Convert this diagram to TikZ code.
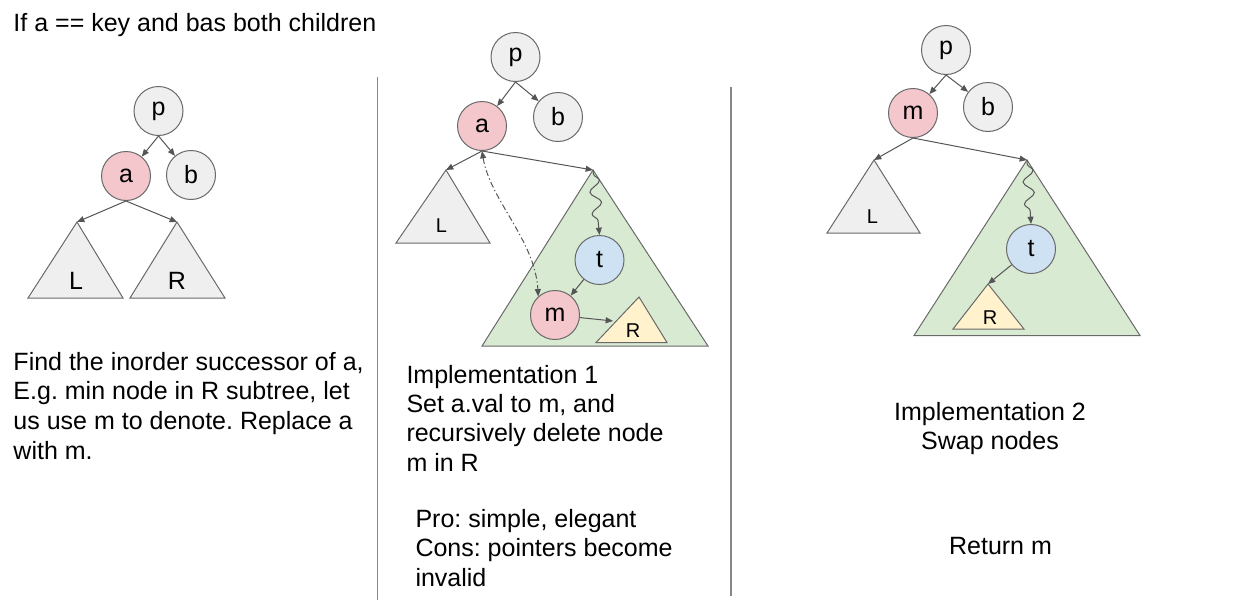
\documentclass[tikz,border=0pt]{standalone}
\usepackage{fontspec}
\setmainfont{Liberation Sans}
\usetikzlibrary{arrows.meta,decorations.pathmorphing}
\frenchspacing

\definecolor{nodegrey}{RGB}{239,239,239}
\definecolor{nodepink}{RGB}{244,199,204}
\definecolor{nodeblue}{RGB}{207,226,243}
\definecolor{treegreen}{RGB}{217,234,211}
\definecolor{treeyellow}{RGB}{255,242,204}
\definecolor{edgegrey}{RGB}{105,105,105}
\definecolor{linkgrey}{RGB}{85,85,85}
\definecolor{rulegrey}{RGB}{135,135,135}

\tikzset{every picture/.style={line width=0.75pt}}
\tikzset{
  treenode/.style={circle,draw=edgegrey,minimum size=36.75pt,inner sep=0pt,font=\fontsize{18.75}{22}\selectfont},
  greynode/.style={treenode,fill=nodegrey},
  pinknode/.style={treenode,fill=nodepink},
  bluenode/.style={treenode,fill=nodeblue},
  link/.style={draw=linkgrey,-{Triangle[length=5.5pt,width=4.5pt]}},
  wavelink/.style={link,decorate,decoration={snake,amplitude=4pt,segment length=16.5pt,pre length=3pt,post length=5pt}},
  swaplink/.style={draw=linkgrey,{Triangle[length=5.5pt,width=4.5pt]}-{Triangle[length=5.5pt,width=4.5pt]},dash pattern=on 4.5pt off 2pt on 1pt off 2pt},
  subtree/.style={draw=edgegrey,fill=nodegrey},
  bigtree/.style={draw=edgegrey,fill=treegreen},
  smalltree/.style={draw=edgegrey,fill=treeyellow},
  treelabel/.style={inner sep=0pt,font=\fontsize{18.75}{22}\selectfont},
  smalllabel/.style={inner sep=0pt,font=\fontsize{15}{18}\selectfont},
  bodytext/.style={anchor=base west,inner sep=0pt,font=\fontsize{18.75}{22}\selectfont},
  centertext/.style={anchor=base,inner sep=0pt,font=\fontsize{18.75}{22}\selectfont},
  divider/.style={draw=rulegrey,line width=1.2pt}
}

\begin{document}
\begin{tikzpicture}[x=0.75pt,y=0.75pt,yscale=-1,xscale=1]
    \useasboundingbox (0,0) rectangle (1256,600);
    % Text Node
    \node (title) at (13,31.5) [bodytext] {If a == key and bas both children};

    %% left: before
    \node (pA) at (158.5,111) [greynode] {p};
    \node (aA) at (126,176) [pinknode] {a};
    \node (bA) at (191,175) [greynode] {b};
    %Shape: Triangle
    \draw [subtree] (28,298) -- (77,222) -- (123,298) -- cycle;
    \coordinate (LtopA) at (77,222);
    %Shape: Triangle
    \draw [subtree] (130,298) -- (177,222) -- (225,298) -- cycle;
    \coordinate (RtopA) at (177,222);
    \node (LA) at (76,281) [treelabel] {L};
    \node (RA) at (177,281) [treelabel] {R};
    %Straight Lines
    \draw [link] (pA.south) -- (aA);
    \draw [link] (pA.south) -- (bA);
    \draw [link] (aA.south) -- (LtopA);
    \draw [link] (aA.south) -- (RtopA);
    % Text Node
    \node (findA) at (13,370.7) [bodytext] {Find the inorder successor of a,};
    \node (findB) at (13,399.5) [bodytext] {E.g. min node in R subtree, let};
    \node (findC) at (13,429.3) [bodytext] {us use m to denote. Replace a};
    \node (findD) at (13,459.2) [bodytext] {with m.};

    %Straight Lines [dividers]
    \draw [divider] (377.5,77) -- (377.5,600);
    \draw [divider] (730.7,87) -- (730.7,596);

    %% middle: implementation 1
    %Shape: Triangle
    \draw [subtree] (396,243) -- (446,170) -- (490,243) -- cycle;
    \coordinate (LtopB) at (446,170);
    \node (LB) at (441.5,226) [smalllabel] {L};
    %Shape: Triangle
    \draw [bigtree] (482,346) -- (593,170) -- (708,346) -- cycle;
    \coordinate (GtopB) at (593,170);
    %Shape: Triangle
    \draw [smalltree] (596,342.5) -- (639,297) -- (667,342.5) -- cycle;
    \coordinate (RsideB) at (613,321);
    \node (RB) at (633,331) [smalllabel] {R};
    \node (pB) at (515.5,57) [greynode] {p};
    \node (aB) at (482,126) [pinknode] {a};
    \node (bB) at (558,117) [greynode] {b};
    \node (tB) at (599.5,260) [bluenode] {t};
    \node (mB) at (555,315) [pinknode] {m};
    %Straight Lines
    \draw [link] (pB.south) -- (aB);
    \draw [link] (pB.south) -- (bB);
    \draw [link] (aB.south) -- (LtopB);
    \draw [link] (aB.south) -- (GtopB);
    \draw [wavelink] (GtopB) -- (tB.north);
    \draw [link] (tB) -- (mB);
    \draw [link] (mB) -- (RsideB);
    %Curve Lines
    \draw [swaplink] (aB.south) .. controls (490,200) and (535,240) .. (mB.132);
    % Text Node
    \node (implA) at (406,383.5) [bodytext] {Implementation 1};
    \node (implB) at (406,412.8) [bodytext] {Set a.val to m, and};
    \node (implC) at (406,441.8) [bodytext] {recursively delete node};
    \node (implD) at (406,471.6) [bodytext] {m in R};
    \node (proA) at (415,527.6) [bodytext] {Pro: simple, elegant};
    \node (proB) at (415,556.7) [bodytext] {Cons: pointers become};
    \node (proC) at (415,586.6) [bodytext] {invalid};

    %% right: implementation 2
    %Shape: Triangle
    \draw [subtree] (827,233) -- (874,160) -- (920,233) -- cycle;
    \coordinate (LtopC) at (874,160);
    \node (LC) at (872.5,217) [smalllabel] {L};
    %Shape: Triangle
    \draw [bigtree] (914,335.5) -- (1027,160) -- (1140,335.5) -- cycle;
    \coordinate (GtopC) at (1027,160);
    %Shape: Triangle
    \draw [smalltree] (953,329) -- (988,284) -- (1024,329) -- cycle;
    \coordinate (RtopC) at (988,284);
    \node (RC) at (990,318) [smalllabel] {R};
    \node (pC) at (946,50) [greynode] {p};
    \node (mC) at (913,113) [pinknode] {m};
    \node (bC) at (988,107) [greynode] {b};
    \node (tC) at (1031,249) [bluenode] {t};
    %Straight Lines
    \draw [link] (pC.south) -- (mC);
    \draw [link] (pC.south) -- (bC);
    \draw [link] (mC.south) -- (LtopC);
    \draw [link] (mC.south) -- (GtopC);
    \draw [wavelink] (GtopC) -- (tC.north);
    \draw [link] (tC) -- (RtopC);
    % Text Node
    \node (swapA) at (990,420.7) [centertext] {Implementation 2};
    \node (swapB) at (990,449.3) [centertext] {Swap nodes};
    \node (retA) at (1000.5,554) [centertext] {Return m};
\end{tikzpicture}
\end{document}
